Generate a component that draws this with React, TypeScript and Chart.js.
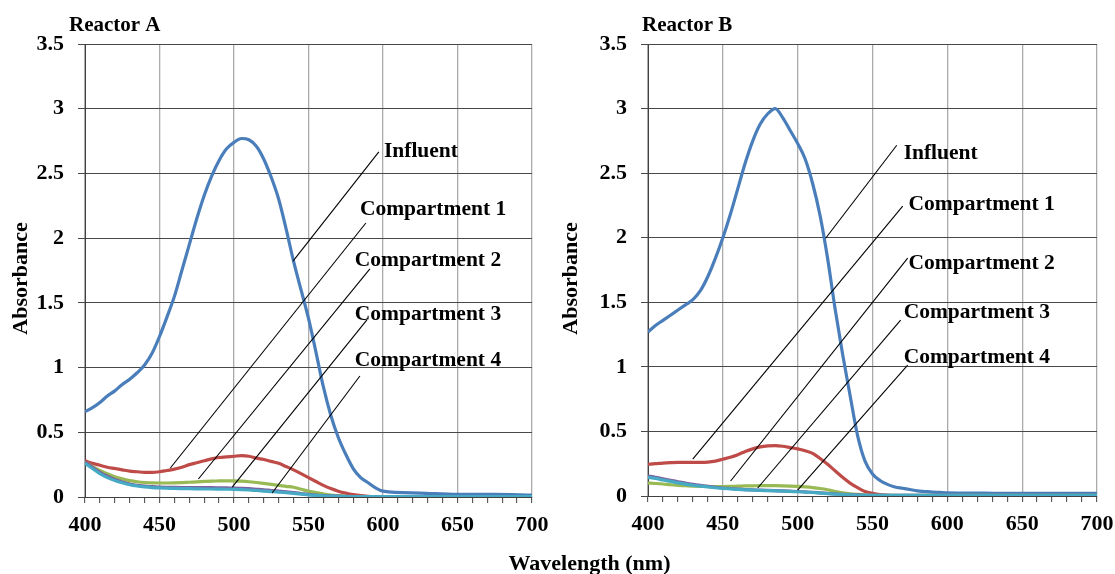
import React, { useEffect, useRef } from "react";
import { Chart, registerables } from "chart.js";

Chart.register(...registerables);

// ---------- data ----------
const wavelengths = [
  400, 405, 410, 415, 420, 425, 430, 435, 440, 445, 450, 455, 460, 465, 470, 475, 480, 485, 490, 495,
  500, 505, 510, 515, 520, 525, 530, 535, 540, 545, 550, 555, 560, 565, 570, 575, 580, 585, 590, 595,
  600, 625, 650, 675, 700,
];

const seriesNames = ["Influent", "Compartment 1", "Compartment 2", "Compartment 3", "Compartment 4"];
const seriesColors = ["#4A7EBB", "#BE4B48", "#98B954", "#7D60A0", "#46AAC5"];

// Reactor A
const reactorAInfluent = [
  0.66, 0.69, 0.73, 0.78, 0.82, 0.87, 0.91, 0.96, 1.02, 1.11, 1.24, 1.39, 1.55, 1.75, 1.95, 2.15, 2.33, 2.48, 2.6, 2.69,
  2.74, 2.77, 2.76, 2.71, 2.61, 2.47, 2.3, 2.07, 1.82, 1.6, 1.38, 1.12, 0.85, 0.63, 0.46, 0.33, 0.22, 0.15, 0.11, 0.07,
  0.045, 0.03, 0.02, 0.02, 0.015,
];
const reactorAComp1 = [
  0.28, 0.26, 0.245, 0.23, 0.22, 0.21, 0.2, 0.195, 0.19, 0.19, 0.195, 0.205, 0.215, 0.23, 0.25, 0.265, 0.28, 0.295, 0.305, 0.31,
  0.315, 0.32, 0.315, 0.3, 0.29, 0.275, 0.26, 0.235, 0.21, 0.18, 0.15, 0.12, 0.09, 0.065, 0.045, 0.03, 0.018, 0.01, 0.006, 0.004,
  0.003, 0.003, 0.003, 0.003, 0.003,
];
const reactorAComp2 = [
  0.27, 0.235, 0.205, 0.18, 0.157, 0.14, 0.127, 0.118, 0.112, 0.109, 0.108, 0.108, 0.109, 0.111, 0.114, 0.117, 0.12, 0.123, 0.124, 0.125,
  0.124, 0.122, 0.118, 0.112, 0.105, 0.097, 0.09, 0.082, 0.075, 0.06, 0.045, 0.035, 0.025, 0.015, 0.01, 0.006, 0.004, 0.003, 0.003, 0.003,
  0.003, 0.003, 0.003, 0.003, 0.003,
];
const reactorAComp3 = [
  0.27, 0.23, 0.19, 0.16, 0.135, 0.115, 0.1, 0.09, 0.085, 0.08, 0.077, 0.075, 0.074, 0.073, 0.072, 0.072, 0.072, 0.072, 0.071, 0.07,
  0.069, 0.067, 0.064, 0.06, 0.056, 0.05, 0.045, 0.04, 0.034, 0.027, 0.02, 0.015, 0.011, 0.008, 0.006, 0.005, 0.004, 0.004, 0.004, 0.004,
  0.004, 0.004, 0.004, 0.004, 0.004,
];
const reactorAComp4 = [
  0.26, 0.22, 0.18, 0.15, 0.128, 0.11, 0.095, 0.085, 0.078, 0.073, 0.07, 0.068, 0.066, 0.065, 0.064, 0.063, 0.062, 0.062, 0.061, 0.06,
  0.059, 0.057, 0.054, 0.05, 0.046, 0.042, 0.038, 0.033, 0.028, 0.022, 0.016, 0.012, 0.009, 0.007, 0.005, 0.004, 0.004, 0.004, 0.004, 0.004,
  0.004, 0.004, 0.004, 0.004, 0.004,
];

// Reactor B
const reactorBInfluent = [
  1.27, 1.32, 1.36, 1.4, 1.44, 1.48, 1.52, 1.59, 1.7, 1.84, 2.0, 2.18, 2.38, 2.58, 2.75, 2.88, 2.96, 3.0, 2.93, 2.83,
  2.73, 2.61, 2.42, 2.17, 1.84, 1.45, 1.1, 0.78, 0.47, 0.27, 0.17, 0.12, 0.09, 0.07, 0.06, 0.05, 0.04, 0.035, 0.03, 0.028,
  0.025, 0.022, 0.02, 0.02, 0.02,
];
const reactorBComp1 = [
  0.246, 0.25, 0.255, 0.258, 0.26, 0.26, 0.26, 0.26, 0.262, 0.27, 0.285, 0.3, 0.32, 0.345, 0.365, 0.38, 0.388, 0.39, 0.385, 0.375,
  0.365, 0.35, 0.33, 0.29, 0.245, 0.195, 0.145, 0.1, 0.065, 0.035, 0.02, 0.01, 0.006, 0.004, 0.003, 0.003, 0.003, 0.003, 0.003, 0.003,
  0.003, 0.003, 0.003, 0.003, 0.003,
];
const reactorBComp2 = [
  0.1, 0.097, 0.093, 0.087, 0.083, 0.08, 0.077, 0.075, 0.074, 0.073, 0.073, 0.074, 0.076, 0.078, 0.079, 0.08, 0.08, 0.08, 0.079, 0.077,
  0.074, 0.07, 0.065, 0.058, 0.048, 0.035, 0.025, 0.017, 0.012, 0.008, 0.006, 0.005, 0.005, 0.005, 0.005, 0.005, 0.005, 0.005, 0.005, 0.005,
  0.005, 0.005, 0.005, 0.005, 0.005,
];
const reactorBComp3 = [
  0.155, 0.145, 0.133, 0.122, 0.11, 0.1, 0.09, 0.082, 0.075, 0.068, 0.062, 0.058, 0.054, 0.05, 0.047, 0.045, 0.043, 0.041, 0.039, 0.037,
  0.035, 0.032, 0.029, 0.025, 0.021, 0.017, 0.013, 0.01, 0.008, 0.006, 0.006, 0.006, 0.006, 0.006, 0.006, 0.006, 0.006, 0.006, 0.006, 0.006,
  0.006, 0.006, 0.006, 0.006, 0.006,
];
const reactorBComp4 = [
  0.145, 0.136, 0.124, 0.113, 0.102, 0.092, 0.083, 0.076, 0.07, 0.064, 0.059, 0.055, 0.051, 0.048, 0.046, 0.043, 0.041, 0.039, 0.037, 0.035,
  0.033, 0.03, 0.027, 0.023, 0.019, 0.015, 0.011, 0.008, 0.006, 0.005, 0.005, 0.005, 0.005, 0.005, 0.005, 0.005, 0.005, 0.005, 0.005, 0.005,
  0.005, 0.005, 0.005, 0.005, 0.005,
];

// Annotation anchors (data coordinates): label position, leader line from curve to label
const reactorALabelX = [600.6, 584.5, 581.1, 581.1, 581.1];
const reactorALabelY = [2.673, 2.225, 1.831, 1.414, 1.058];
const reactorALineFromX = [539.6, 457.3, 476.1, 498.8, 525.6];
const reactorALineFromY = [1.823, 0.224, 0.139, 0.077, 0.031];
const reactorALineToX = [597.2, 588.5, 591.2, 589.2, 584.5];
const reactorALineToY = [2.666, 2.117, 1.762, 1.368, 0.935];

const reactorBLabelX = [570.8, 574.1, 574.1, 570.8, 570.8];
const reactorBLabelY = [2.654, 2.26, 1.803, 1.424, 1.076];
const reactorBLineFromX = [518.7, 429.9, 455.2, 473.3, 500.0];
const reactorBLineFromY = [1.996, 0.286, 0.116, 0.062, 0.046];
const reactorBLineToX = [566.2, 570.2, 573.5, 568.8, 573.5];
const reactorBLineToY = [2.716, 2.244, 1.842, 1.362, 1.014];

const xMin = 400;
const xMax = 700;
const xMinorStep = 10;
const xMajorStep = 50;
const yMin = 0;
const yMax = 3.5;
const yStep = 0.5;

// ---------- styling ----------
const FONT = '"Liberation Serif", "Times New Roman", serif';
const tickFont = { family: FONT, size: 22, weight: "bold" as const };

type PanelCfg = {
  title: string;
  series: number[][];
  labelX: number[];
  labelY: number[];
  lineFromX: number[];
  lineFromY: number[];
  lineToX: number[];
  lineToY: number[];
  canvasWidth: number;
  yAxisWidth: number;
  padRight: number;
  padTop: number;
  padBottom: number;
  titleX: number;
  yTitleX: number;
};

const panelA: PanelCfg = {
  title: "Reactor A",
  series: [reactorAInfluent, reactorAComp1, reactorAComp2, reactorAComp3, reactorAComp4],
  labelX: reactorALabelX,
  labelY: reactorALabelY,
  lineFromX: reactorALineFromX,
  lineFromY: reactorALineFromY,
  lineToX: reactorALineToX,
  lineToY: reactorALineToY,
  canvasWidth: 560,
  yAxisWidth: 85,
  padRight: 28,
  padTop: 44,
  padBottom: 27,
  titleX: 69,
  yTitleX: 27,
};

const panelB: PanelCfg = {
  title: "Reactor B",
  series: [reactorBInfluent, reactorBComp1, reactorBComp2, reactorBComp3, reactorBComp4],
  labelX: reactorBLabelX,
  labelY: reactorBLabelY,
  lineFromX: reactorBLineFromX,
  lineFromY: reactorBLineFromY,
  lineToX: reactorBLineToX,
  lineToY: reactorBLineToY,
  canvasWidth: 555,
  yAxisWidth: 88,
  padRight: 18,
  padTop: 44,
  padBottom: 28,
  titleX: 82,
  yTitleX: 17,
};

function decorPlugin(cfg: PanelCfg) {
  return {
    id: "decor",
    afterDatasetsDraw(chart: any) {
      const { ctx } = chart;
      const xs = chart.scales.x;
      const ys = chart.scales.y;
      ctx.save();
      ctx.strokeStyle = "#000";
      ctx.lineWidth = 1.1;
      cfg.lineFromX.forEach((fx, i) => {
        ctx.beginPath();
        ctx.moveTo(xs.getPixelForValue(fx), ys.getPixelForValue(cfg.lineFromY[i]));
        ctx.lineTo(xs.getPixelForValue(cfg.lineToX[i]), ys.getPixelForValue(cfg.lineToY[i]));
        ctx.stroke();
      });
      ctx.fillStyle = "#000";
      ctx.font = `bold 21.5px ${FONT}`;
      ctx.textAlign = "left";
      ctx.textBaseline = "middle";
      seriesNames.forEach((n, i) => {
        ctx.fillText(n, xs.getPixelForValue(cfg.labelX[i]), ys.getPixelForValue(cfg.labelY[i]));
      });
      ctx.restore();
    },
    afterDraw(chart: any) {
      const { ctx } = chart;
      ctx.save();
      ctx.fillStyle = "#000";
      ctx.font = `bold 21px ${FONT}`;
      ctx.textAlign = "left";
      ctx.textBaseline = "alphabetic";
      ctx.fillText(cfg.title, cfg.titleX, 31);
      ctx.font = `bold 22px ${FONT}`;
      ctx.translate(cfg.yTitleX, 278.5);
      ctx.rotate(-Math.PI / 2);
      ctx.textAlign = "center";
      ctx.fillText("Absorbance", 0, 0);
      ctx.restore();
    },
  };
}

function buildConfig(cfg: PanelCfg): any {
  return {
    type: "line",
    data: {
      datasets: cfg.series.map((vals, i) => ({
        label: seriesNames[i],
        data: wavelengths.map((w, j) => ({ x: w, y: vals[j] })),
        borderColor: seriesColors[i],
        backgroundColor: seriesColors[i],
        borderWidth: 3.2,
        pointRadius: 0,
        cubicInterpolationMode: "monotone",
        fill: false,
        order: seriesNames.length - 1 - i,
      })),
    },
    options: {
      animation: false,
      responsive: false,
      maintainAspectRatio: false,
      events: [],
      layout: { padding: { left: 0, right: cfg.padRight, top: cfg.padTop, bottom: cfg.padBottom } },
      plugins: {
        legend: { display: false },
        tooltip: { enabled: false },
        title: { display: false },
      },
      scales: {
        x: {
          type: "linear",
          min: xMin,
          max: xMax,
          ticks: {
            stepSize: xMinorStep,
            autoSkip: false,
            maxRotation: 0,
            minRotation: 0,
            color: "#000",
            font: tickFont,
            padding: 9,
            callback: (v: number) => (v % xMajorStep === 0 ? String(v) : ""),
          },
          grid: {
            color: (c: any) => (c.tick && c.tick.value % xMajorStep === 0 ? "#ABABAB" : "rgba(0,0,0,0)"),
            lineWidth: 1.3,
            tickColor: "#404040",
            tickWidth: 1,
            tickLength: 6,
            drawTicks: true,
          },
          border: { color: "#404040", width: 1 },
          afterFit: (s: any) => {
            s.height = 50;
            s.paddingLeft = 0;
            s.paddingRight = 0;
          },
        },
        y: {
          type: "linear",
          min: yMin,
          max: yMax,
          ticks: {
            stepSize: yStep,
            color: "#000",
            font: tickFont,
            padding: 14,
            callback: (v: number) => String(v),
          },
          grid: {
            color: "#484848",
            lineWidth: 1,
            tickColor: "#484848",
            tickLength: 7,
          },
          border: { color: "#404040", width: 1 },
          afterFit: (s: any) => {
            s.width = cfg.yAxisWidth;
            s.paddingTop = 0;
            s.paddingBottom = 0;
          },
        },
      },
    },
    plugins: [decorPlugin(cfg)],
  };
}

function Panel({ cfg, left }: { cfg: PanelCfg; left: number }) {
  const ref = useRef<HTMLCanvasElement>(null);
  useEffect(() => {
    if (!ref.current) return;
    const chart = new Chart(ref.current, buildConfig(cfg));
    return () => chart.destroy();
  }, [cfg]);
  return (
    <canvas
      ref={ref}
      width={cfg.canvasWidth}
      height={574}
      style={{ position: "absolute", left, top: 0, width: cfg.canvasWidth, height: 574, display: "block" }}
    />
  );
}

export default function App() {
  return (
    <div
      style={{
        position: "fixed",
        left: 0,
        top: 0,
        width: 1115,
        height: 574,
        overflow: "hidden",
        background: "#fff",
      }}
    >
      <Panel cfg={panelA} left={0} />
      <Panel cfg={panelB} left={560} />
      <div
        style={{
          position: "absolute",
          left: 589.5,
          top: 550,
          transform: "translateX(-50%)",
          font: `bold 22px ${FONT}`,
          lineHeight: "26px",
          whiteSpace: "nowrap",
          color: "#000",
        }}
      >
        Wavelength (nm)
      </div>
    </div>
  );
}
